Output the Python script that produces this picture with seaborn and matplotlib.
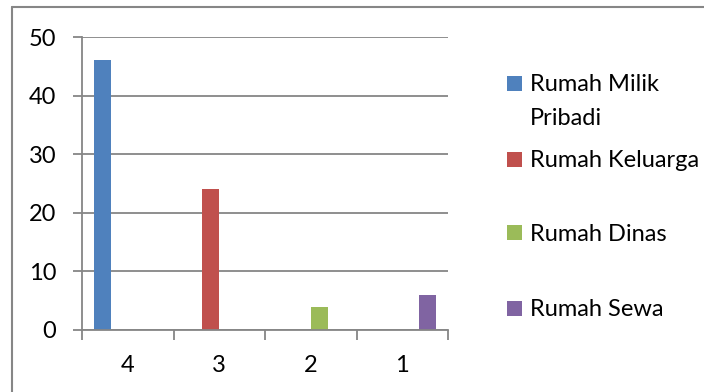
import matplotlib
matplotlib.use('Agg')

import matplotlib.pyplot as plt
import seaborn as sns
import pandas as pd
from matplotlib.patches import Rectangle
from matplotlib.lines import Line2D

# data
categories = ['4', '3', '2', '1']
series_names = ['Rumah Milik Pribadi', 'Rumah Keluarga', 'Rumah Dinas', 'Rumah Sewa']
legend_labels = ['Rumah Milik\nPribadi', 'Rumah Keluarga', 'Rumah Dinas', 'Rumah Sewa']
milik_pribadi = [46, 0, 0, 0]
keluarga = [0, 24, 0, 0]
dinas = [0, 0, 4, 0]
sewa = [0, 0, 0, 6]
colors = ['#4F81BD', '#C0504D', '#9BBB59', '#8064A2']

rows = []
for name, vals in zip(series_names, [milik_pribadi, keluarga, dinas, sewa]):
    for cat, v in zip(categories, vals):
        rows.append({'kategori': cat, 'seri': name, 'nilai': v})
df = pd.DataFrame(rows)

sns.set_style('white')
plt.rcParams['font.family'] = ['Lato', 'DejaVu Sans']
grid_col = '#868686'
fs = 17

fig = plt.figure(figsize=(7.04, 3.92), dpi=100)
ax = fig.add_axes([82 / 704, 1 - 330 / 392, 366 / 704, 293 / 392])

sns.barplot(data=df, x='kategori', y='nilai', hue='seri', order=categories,
            hue_order=series_names, palette=colors, width=0.745,
            dodge=True, legend=False, ax=ax, saturation=1, linewidth=0)

ax.set_xlim(-0.5, 3.5)
ax.set_ylim(0, 50)
ax.set_yticks([0, 10, 20, 30, 40, 50])
ax.yaxis.grid(True, color=grid_col, linewidth=1.3)
ax.set_axisbelow(True)
ax.set_xlabel('')
ax.set_ylabel('')

for s in ['top', 'right']:
    ax.spines[s].set_visible(False)
for s in ['left', 'bottom']:
    ax.spines[s].set_color(grid_col)
    ax.spines[s].set_linewidth(1.3)

ax.set_xticks([-0.5, 0.5, 1.5, 2.5, 3.5], minor=True)
ax.tick_params(axis='x', which='minor', length=7, width=1.3, color=grid_col, direction='out', bottom=True)
ax.tick_params(axis='x', which='major', length=0, pad=18, labelsize=fs, labelcolor='black')
ax.tick_params(axis='y', length=6.5, width=1.3, color=grid_col, direction='out', left=True,
               pad=12, labelsize=fs, labelcolor='black')

# legend drawn on the figure, Excel style
sq = 15
centers = [83, 159, 233, 308]
for lab, col, cy in zip(legend_labels, colors, centers):
    fig.patches.append(Rectangle((507 / 704, 1 - (cy + sq / 2) / 392), sq / 704, sq / 392,
                                 transform=fig.transFigure, facecolor=col, edgecolor='none'))
    fig.text(530 / 704, 1 - (cy - 9) / 392, lab, fontsize=fs, va='top', ha='left',
             linespacing=1.75, color='black')

# chart border (right and bottom edges fall outside the image)
fig.add_artist(Line2D([12 / 704, 1], [1 - 7 / 392, 1 - 7 / 392], transform=fig.transFigure,
                      color=grid_col, linewidth=1.5))
fig.add_artist(Line2D([12 / 704, 12 / 704], [0, 1 - 7 / 392], transform=fig.transFigure,
                      color=grid_col, linewidth=1.5))

fig.savefig('out.png', dpi=100)
